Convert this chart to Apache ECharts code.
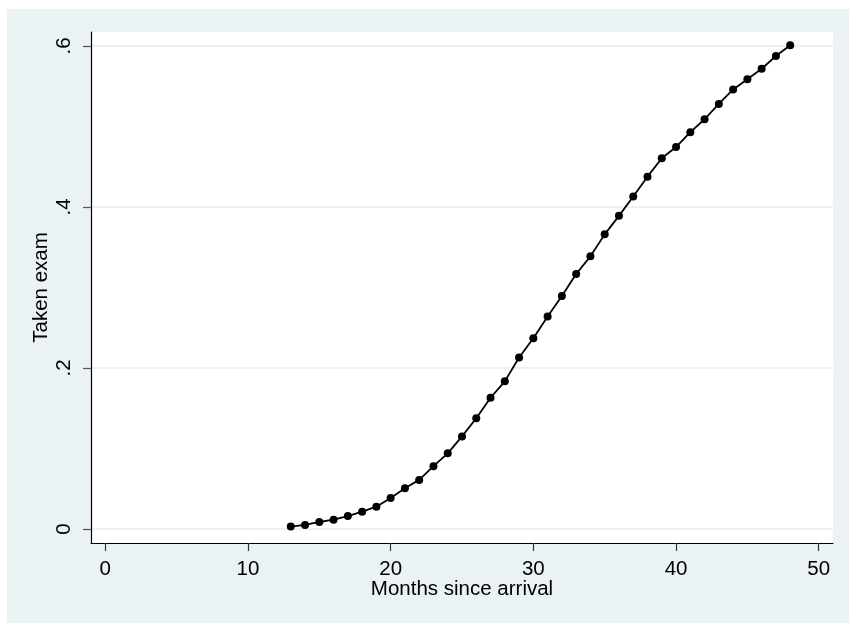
<!DOCTYPE html>
<html>
<head>
<meta charset="utf-8">
<script src="https://cdn.jsdelivr.net/npm/echarts@6.0.0/dist/echarts.min.js"></script>
<style>
html, body { margin: 0; padding: 0; background: #ffffff; }
#bg { position: absolute; left: 7px; top: 9px; width: 842px; height: 614px; background: #EAF2F3; }
#main { position: absolute; left: 0; top: 0; width: 849px; height: 623px; }
</style>
</head>
<body>
<div id="bg"></div>
<div id="main"></div>
<script>
// Data
const months = [13,14,15,16,17,18,19,20,21,22,23,24,25,26,27,28,29,30,31,32,33,34,35,36,37,38,39,40,41,42,43,44,45,46,47,48];
const takenExam = [0.003,0.005,0.0087,0.0116,0.016,0.0215,0.0277,0.0385,0.0505,0.061,0.078,0.094,0.115,0.1375,0.163,0.1834,0.213,0.237,0.264,0.2894,0.3168,0.3387,0.366,0.389,0.413,0.4377,0.4605,0.4745,0.493,0.509,0.528,0.546,0.5586,0.5718,0.5876,0.6009];
const xTicks = [0,10,20,30,40,50];
const xTickLabels = ['0','10','20','30','40','50'];
const yTicks = [0,0.2,0.4,0.6];
const yTickLabels = ['0','.2','.4','.6'];

const points = months.map((m, i) => [m, takenExam[i]]);
const font = '"Liberation Sans", Arial, sans-serif';

function lookup(ticks, labels) {
  return function (v) {
    for (let i = 0; i < ticks.length; i++) {
      if (Math.abs(ticks[i] - v) < 1e-6) return labels[i];
    }
    return '';
  };
}

const chart = echarts.init(document.getElementById('main'), null, { renderer: 'canvas' });
chart.setOption({
  backgroundColor: 'transparent',
  animation: false,
  grid: {
    left: 91, top: 32, right: 16, bottom: 80,
    show: true, backgroundColor: '#ffffff', borderWidth: 0,
    containLabel: false, outerBoundsMode: 'none'
  },
  xAxis: {
    type: 'value',
    min: -1, max: 51,
    name: 'Months since arrival',
    nameLocation: 'middle',
    nameGap: 36,
    nameMoveOverlap: false,
    nameTextStyle: { color: '#000', fontSize: 20.5, fontFamily: font },
    axisLine: { show: true, onZero: false, lineStyle: { color: '#000', width: 1.2 } },
    axisTick: { show: true, length: 8, customValues: xTicks, lineStyle: { color: '#333', width: 1.2 } },
    axisLabel: { customValues: xTicks, formatter: lookup(xTicks, xTickLabels), color: '#000', fontSize: 20.5, fontFamily: font, margin: 16 },
    splitLine: { show: false }
  },
  yAxis: {
    type: 'value',
    min: -0.0174, max: 0.6174,
    name: 'Taken exam',
    nameLocation: 'middle',
    nameGap: 39,
    nameMoveOverlap: false,
    nameTextStyle: { color: '#000', fontSize: 20.5, fontFamily: font },
    axisLine: { show: true, onZero: false, lineStyle: { color: '#000', width: 1.2 } },
    axisTick: { show: true, length: 8, customValues: yTicks, lineStyle: { color: '#555', width: 1.2 } },
    axisLabel: { customValues: yTicks, rotate: 90, formatter: lookup(yTicks, yTickLabels), color: '#000', fontSize: 20.5, fontFamily: font, margin: 16 },
    splitLine: { show: true, lineStyle: { color: '#E4EDF0', width: 1.5 } }
  },
  series: [{
    type: 'line',
    data: points,
    symbol: 'circle',
    symbolSize: 8,
    showAllSymbol: true,
    lineStyle: { color: '#000', width: 1.8 },
    itemStyle: { color: '#000' }
  }]
});
</script>
</body>
</html>
